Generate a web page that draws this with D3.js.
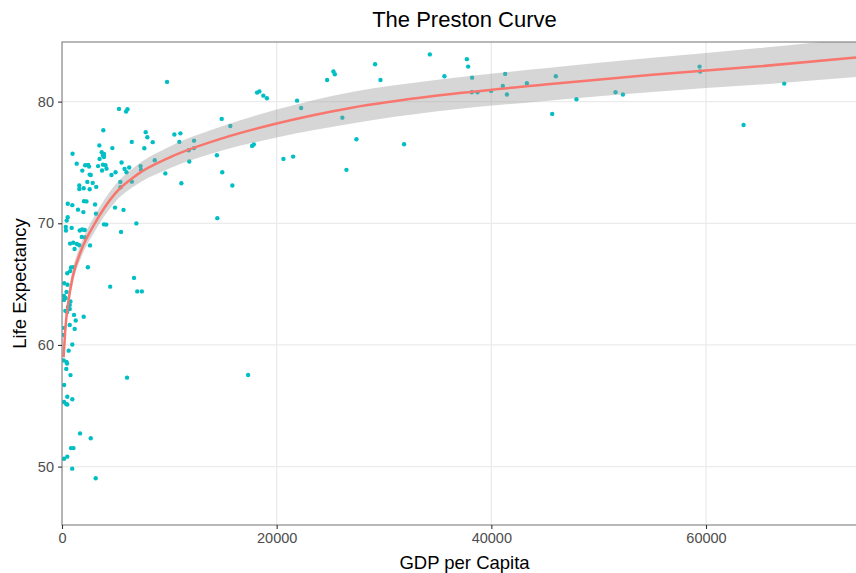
<!DOCTYPE html>
<html>
<head>
<meta charset="utf-8">
<script src="https://cdn.jsdelivr.net/npm/d3@7/dist/d3.min.js"></script>
<style>
  html, body { margin: 0; padding: 0; background: #ffffff; }
  svg { display: block; font-family: "Liberation Sans", Arial, sans-serif; }
</style>
</head>
<body>
<svg id="chart" width="856" height="573"></svg>
<script>
// ---- Data ----
const gdpPerCapita = [
  5310, 5970, 6100, 3850, 7800, 10470, 7950, 6500, 8450, 3480, 7670, 4690,
  3700, 3910, 3820, 3910, 3500, 980, 8640, 1370, 5550,
  2160, 2440, 2520, 3360, 3820, 4050, 4150, 3730,
  6260, 5830, 6010, 7320, 7360, 4990, 4610, 1890, 2580, 2680,
  9630, 2360, 2860, 5430, 6510, 1610, 1610, 2020, 2580, 3190, 5450, 11120,
  2050, 2280, 540, 960, 3080, 1490, 4940, 5730, 1990, 3170, 530, 440,
  3910, 4120, 6930, 350, 370, 900, 1650, 1880, 2120, 5500, 1840, 2140,
  750, 1050, 1390, 1610, 1170, 2610, 840, 1030, 760, 490, 2410,
  210, 510, 4490, 6710, 7010, 7440, 420, 190, 330, 190, 790,
  720, 560, 720, 310, 470, 1120, 2020, 1280, 720, 210, 1180, 190,
  960, 620, 160, 420, 470, 400, 790, 6060, 200, 490, 960,
  190, 390, 490, 1680, 2680, 840, 1070, 190, 490, 950, 3140,
  9790, 11030, 10930, 12300, 11810, 12300, 11860,
  18170, 18390, 18760, 19090, 14880, 15680, 17710, 17870, 14430, 14930, 15870, 14470,
  20630, 21530, 21900, 22280, 24700, 25290, 25420, 26120, 26500, 27430,
  29170, 29670, 31870, 34270, 35630, 37720, 37840, 38210, 38180, 38710, 39980,
  41290, 41070, 41450, 43310, 45670, 46010, 47930, 51570, 52260, 59400, 59460, 63500, 67290, 17340
];
const lifeExpectancy = [
  79.4, 79.19, 79.38, 77.65, 77.49, 77.3, 77.07, 76.69, 76.67, 76.4, 76.17, 76.18,
  75.84, 75.7, 75.58, 75.45, 75.29, 75.72, 75.18, 74.9, 75.0,
  74.77, 74.8, 74.66, 74.7, 74.82, 74.77, 74.49, 74.34,
  74.59, 74.47, 74.2, 74.7, 74.39, 74.2, 73.97, 74.33, 74.0, 73.97,
  74.1, 73.4, 73.32, 73.4, 73.42, 73.11, 72.82, 72.88, 72.8, 72.99, 72.96, 73.29,
  71.82, 71.8, 71.61, 71.49, 71.54, 71.12, 71.29, 71.1, 70.92, 70.79, 70.5, 70.22,
  69.91, 69.89, 69.99, 69.7, 69.41, 69.62, 69.41, 69.49, 69.45, 69.29, 68.88, 68.84,
  68.33, 68.4, 68.3, 68.2, 67.89, 68.18, 66.37, 66.4, 66.07, 65.89, 66.39,
  65.07, 64.95, 64.79, 65.51, 64.4, 64.4, 64.36, 64.03, 63.86, 63.7, 63.58,
  63.29, 63.12, 62.96, 62.8, 62.71, 62.47, 62.32, 62.01, 61.64, 61.4, 61.32, 60.82,
  60.04, 59.53, 58.73, 58.6, 58.48, 58.03, 57.52, 57.31, 56.71, 55.74, 55.54,
  55.31, 55.15, 55.11, 52.73, 52.33, 51.52, 51.52, 50.65, 50.82, 49.83, 49.04,
  81.62, 77.39, 76.69, 76.79, 76.0, 76.18, 75.08,
  80.74, 80.84, 80.49, 80.28, 78.58, 77.99, 76.36, 76.48, 75.59, 74.2, 73.1, 70.42,
  75.29, 75.48, 80.08, 79.48, 81.78, 82.47, 82.25, 78.68, 74.39, 76.91,
  83.07, 81.78, 76.5, 83.88, 82.09, 83.49, 82.88, 81.97, 80.77, 80.77, 80.88,
  82.28, 81.29, 80.58, 81.51, 78.99, 82.09, 80.2, 80.77, 80.58, 82.88, 82.47, 78.08, 81.48, 57.53
];

// Smoothed trend and its confidence band
const fitGdp   = [150, 300, 600, 1000, 1800, 3000, 5000, 7000, 10000, 15000, 20000, 27000, 35000, 45000, 55000, 65000, 75000];
const fitLife  = [59.0, 61.2, 63.6, 65.6, 67.8, 69.9, 72.5, 74.0, 75.4, 77.0, 78.2, 79.5, 80.5, 81.4, 82.2, 82.9, 83.7];
const fitLower = [58.2, 60.5, 62.95, 65.0, 67.2, 69.25, 71.8, 73.2, 74.5, 76.0, 77.05, 78.2, 79.2, 80.05, 80.8, 81.4, 82.1];
const fitUpper = [59.8, 61.9, 64.25, 66.2, 68.4, 70.55, 73.2, 74.8, 76.3, 78.0, 79.35, 80.8, 81.8, 82.75, 83.6, 84.4, 85.3];

const xTicks = [0, 20000, 40000, 60000];
const yTicks = [50, 60, 70, 80];

const chartTitle = "The Preston Curve";
const xTitle = "GDP per Capita";
const yTitle = "Life Expectancy";

// ---- Layout ----
const svg = d3.select("#chart");
const panel = { left: 62, top: 42, right: 867, bottom: 525 };

const x = d3.scaleLinear().domain([0, 75000]).range([panel.left, panel.right]);
const y = d3.scaleLinear().domain([45.2, 84.9]).range([panel.bottom, panel.top]);

svg.append("defs").append("clipPath").attr("id", "clip")
  .append("rect")
  .attr("x", panel.left).attr("y", panel.top)
  .attr("width", panel.right - panel.left).attr("height", panel.bottom - panel.top);

svg.append("rect").attr("x", panel.left).attr("y", panel.top)
  .attr("width", panel.right - panel.left).attr("height", panel.bottom - panel.top)
  .attr("fill", "#ffffff");

// grid
const grid = svg.append("g").attr("clip-path", "url(#clip)");
grid.selectAll("line.gx").data(xTicks).join("line")
  .attr("x1", d => x(d)).attr("x2", d => x(d))
  .attr("y1", panel.top).attr("y2", panel.bottom)
  .attr("stroke", "#ebebeb").attr("stroke-width", 1.3);
grid.selectAll("line.gy").data(yTicks).join("line")
  .attr("y1", d => y(d)).attr("y2", d => y(d))
  .attr("x1", panel.left).attr("x2", panel.right)
  .attr("stroke", "#ebebeb").attr("stroke-width", 1.3);

const plot = svg.append("g").attr("clip-path", "url(#clip)");

// points
const pts = gdpPerCapita.map((g, i) => ({ g, l: lifeExpectancy[i] }));
plot.selectAll("circle").data(pts).join("circle")
  .attr("cx", d => x(d.g)).attr("cy", d => y(d.l))
  .attr("r", 2.2).attr("fill", "#00BFC4");

// band
const fit = fitGdp.map((g, i) => ({ g, m: fitLife[i], lo: fitLower[i], hi: fitUpper[i] }));
plot.append("path").datum(fit)
  .attr("d", d3.area().x(d => x(d.g)).y0(d => y(d.lo)).y1(d => y(d.hi)).curve(d3.curveMonotoneX))
  .attr("fill", "#999999").attr("fill-opacity", 0.4);

// line
plot.append("path").datum(fit)
  .attr("d", d3.line().x(d => x(d.g)).y(d => y(d.m)).curve(d3.curveMonotoneX))
  .attr("fill", "none").attr("stroke", "#F8766D").attr("stroke-width", 2.5);

// panel border
svg.append("rect").attr("x", panel.left).attr("y", panel.top)
  .attr("width", panel.right - panel.left).attr("height", panel.bottom - panel.top)
  .attr("fill", "none").attr("stroke", "#7f7f7f").attr("stroke-width", 1.1);

// axes
const xAxis = svg.append("g").attr("transform", `translate(0,${panel.bottom})`)
  .call(d3.axisBottom(x).tickValues(xTicks).tickFormat(d3.format("d")).tickSize(4).tickPadding(4));
const yAxis = svg.append("g").attr("transform", `translate(${panel.left},0)`)
  .call(d3.axisLeft(y).tickValues(yTicks).tickFormat(d3.format("d")).tickSize(4).tickPadding(4));
[xAxis, yAxis].forEach(a => {
  a.select(".domain").remove();
  a.selectAll(".tick line").attr("stroke", "#333333").attr("stroke-width", 1.1);
  a.selectAll(".tick text").attr("fill", "#4d4d4d").attr("font-size", 14.5)
    .attr("font-family", "Liberation Sans, Arial, sans-serif");
});

// titles
const cx = (panel.left + panel.right) / 2;
svg.append("text").attr("x", cx).attr("y", 27).attr("text-anchor", "middle")
  .attr("font-size", 22).attr("fill", "#000").text(chartTitle);
svg.append("text").attr("x", cx).attr("y", 569).attr("text-anchor", "middle")
  .attr("font-size", 18.5).attr("fill", "#000").text(xTitle);
svg.append("text").attr("transform", `translate(26,${(panel.top + panel.bottom) / 2}) rotate(-90)`)
  .attr("text-anchor", "middle").attr("font-size", 18.5).attr("fill", "#000").text(yTitle);
</script>
</body>
</html>
